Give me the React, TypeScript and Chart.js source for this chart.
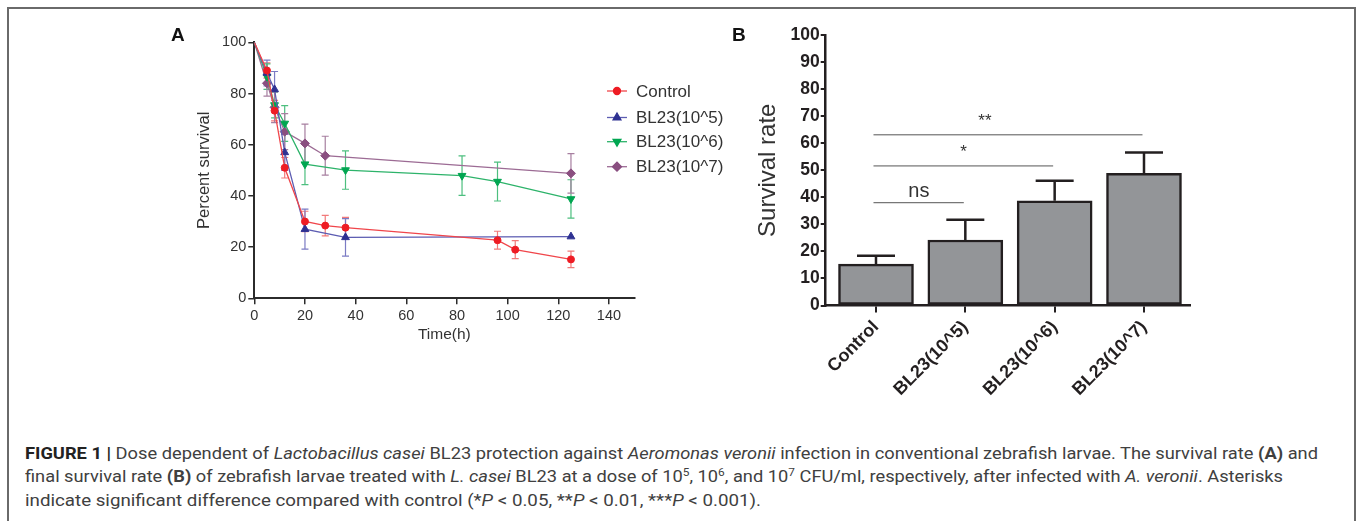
import React, { useEffect, useLayoutEffect, useRef } from 'react';
import { Chart, registerables } from 'chart.js';
import { drawPoint } from 'chart.js/helpers';

Chart.register(...registerables);

const FONT = '"Liberation Sans", Arial, Helvetica, sans-serif';
Chart.defaults.font.family = FONT;

// ---------- Panel A data ----------
const seriesNames = ['Control', 'BL23(10^5)', 'BL23(10^6)', 'BL23(10^7)'];

const controlTime = [0, 5, 8, 12, 20, 28, 36, 96, 103, 125];
const controlSurvival = [100, 89, 73.3, 51, 30, 28.4, 27.6, 22.7, 19, 15.2];
const controlError = [0, 3, 4, 4, 4, 4, 4, 3.5, 3.5, 3.2];

const bl5Time = [0, 5, 8, 12, 20, 36, 125];
const bl5Survival = [100, 88, 81.6, 57, 27, 23.8, 24.1];
const bl5Error = [0, 5, 7, 7, 7.8, 7.3, 0];

const bl6Time = [0, 5, 8, 12, 20, 36, 82, 96, 125];
const bl6Survival = [100, 86.6, 75.5, 68.3, 52.4, 50.1, 47.9, 45.6, 38.8];
const bl6Error = [0, 5, 5, 7, 8, 7.5, 7.7, 7.6, 7.5];

const bl7Time = [0, 5, 8, 12, 20, 28, 125];
const bl7Survival = [100, 84, 74.6, 65.1, 60.5, 55.7, 48.8];
const bl7Error = [0, 5, 6, 7, 7.5, 7.6, 7.7];

const timeTicks = [0, 20, 40, 60, 80, 100, 120, 140];
const survivalTicks = [0, 20, 40, 60, 80, 100];

// ---------- Panel B data ----------
const barCategories = ['Control', 'BL23(10^5)', 'BL23(10^6)', 'BL23(10^7)'];
const finalSurvival = [15.3, 24.2, 38.7, 48.9];
const finalError = [3.1, 7.5, 7.4, 7.7];

const sigLabels = ['ns', '*', '**'];
const sigFrom = [0, 0, 0];
const sigTo = [1, 2, 3];
const sigLevel = [38.0, 51.6, 63.1];
const sigLabelAt = [0.48, 0.98, 1.22];

const zip = (xs: number[], ys: number[]) => xs.map((x, i) => ({ x, y: ys[i] }));

const AXIS = '#2b2b2b';
const TEXT = '#333333';

const errorBarsA = {
  id: 'errorBarsA',
  beforeDatasetsDraw(chart: any) {
    const { ctx, scales } = chart;
    const xs = scales.x, ys = scales.y;
    chart.data.datasets.forEach((ds: any) => {
      const errs: number[] = ds.errors;
      if (!errs) return;
      ctx.save();
      ctx.strokeStyle = ds.errorColor;
      ctx.lineWidth = 1.2;
      ds.data.forEach((p: any, j: number) => {
        const e = errs[j];
        if (!e) return;
        const px = xs.getPixelForValue(p.x);
        const top = ys.getPixelForValue(p.y + e);
        const bot = ys.getPixelForValue(p.y - e);
        ctx.beginPath();
        ctx.moveTo(px, top); ctx.lineTo(px, bot);
        ctx.moveTo(px - 3.5, top); ctx.lineTo(px + 3.5, top);
        ctx.moveTo(px - 3.5, bot); ctx.lineTo(px + 3.5, bot);
        ctx.stroke();
      });
      ctx.restore();
    });
  },
};

const legendA = {
  id: 'legendA',
  afterDraw(chart: any) {
    const { ctx } = chart;
    const x0 = 447, lineLen = 20, textX = 476;
    const rows = [71, 97.5, 121.7, 146.7];
    chart.data.datasets.forEach((ds: any, i: number) => {
      const y = rows[i];
      ctx.save();
      ctx.strokeStyle = ds.borderColor;
      ctx.lineWidth = 1.3;
      ctx.beginPath();
      ctx.moveTo(x0, y); ctx.lineTo(x0 + lineLen, y);
      ctx.stroke();
      ctx.fillStyle = ds.pointBackgroundColor;
      ctx.strokeStyle = ds.pointBorderColor;
      drawPoint(ctx, { pointStyle: ds.pointStyle, rotation: ds.pointRotation || 0, radius: ds.legendRadius, borderWidth: 1 } as any, x0 + lineLen / 2, y);
      ctx.fillStyle = TEXT;
      ctx.font = `17px ${FONT}`;
      ctx.textBaseline = 'middle';
      ctx.textAlign = 'left';
      ctx.fillText(ds.label, textX, y + 1);
      ctx.restore();
    });
  },
};

const barErrorsB = {
  id: 'barErrorsB',
  afterDatasetsDraw(chart: any) {
    const { ctx, scales } = chart;
    const xs = scales.x, ys = scales.y;
    ctx.save();
    ctx.strokeStyle = '#231f20';
    ctx.lineWidth = 2.5;
    finalSurvival.forEach((v, i) => {
      const px = xs.getPixelForValue(i);
      const y0 = ys.getPixelForValue(v);
      const y1 = ys.getPixelForValue(v + finalError[i]);
      ctx.beginPath();
      ctx.moveTo(px, y0); ctx.lineTo(px, y1);
      ctx.moveTo(px - 19, y1); ctx.lineTo(px + 19, y1);
      ctx.stroke();
    });
    ctx.restore();
  },
};

const sigB = {
  id: 'sigB',
  afterDraw(chart: any) {
    const { ctx, scales } = chart;
    const xs = scales.x, ys = scales.y;
    ctx.save();
    sigLabels.forEach((lab, i) => {
      const y = ys.getPixelForValue(sigLevel[i]);
      const sx = xs.getPixelForValue(sigFrom[i]) - 2.5;
      const ex = xs.getPixelForValue(sigTo[i]) - 1.5;
      ctx.strokeStyle = '#555';
      ctx.lineWidth = 1;
      ctx.beginPath();
      ctx.moveTo(sx, y); ctx.lineTo(ex, y);
      ctx.stroke();
      ctx.fillStyle = TEXT;
      ctx.textAlign = 'center';
      ctx.textBaseline = 'alphabetic';
      const tx = xs.getPixelForValue(sigLabelAt[i]);
      if (lab === 'ns') {
        ctx.font = `20px ${FONT}`;
        ctx.fillText(lab, tx, y - 6);
      } else {
        ctx.font = `17px ${FONT}`;
        ctx.fillText(lab, tx, y - 9);
      }
    });
    ctx.restore();
  },
};

function configA(): any {
  const mk = (label: string, t: number[], v: number[], e: number[], line: string, pt: string, err: string, style: string, rot: number, r: number) => ({
    label,
    data: zip(t, v),
    errors: e,
    errorColor: err,
    borderColor: line,
    backgroundColor: pt,
    pointBackgroundColor: pt,
    pointBorderColor: pt,
    pointStyle: style,
    pointRotation: rot,
    legendRadius: r,
    pointRadius: (c: any) => (c.dataIndex === 0 ? 0 : r),
    pointBorderWidth: 1,
    borderWidth: 1.3,
    tension: 0,
    fill: false,
  });
  return {
    type: 'line',
    data: {
      datasets: [
        mk(seriesNames[0], controlTime, controlSurvival, controlError, '#f0464b', '#ee1c24', '#f27a7a', 'circle', 0, 3.5),
        mk(seriesNames[1], bl5Time, bl5Survival, bl5Error, '#5d5db2', '#2e3192', '#7b7bc4', 'triangle', 0, 4.5),
        mk(seriesNames[2], bl6Time, bl6Survival, bl6Error, '#2db36a', '#00a651', '#4dbf7f', 'triangle', 180, 4.5),
        mk(seriesNames[3], bl7Time, bl7Survival, bl7Error, '#9c6b94', '#8a4f80', '#a77fa0', 'rectRot', 0, 4.5),
      ],
    },
    options: {
      animation: false,
      responsive: false,
      maintainAspectRatio: false,
      layout: { padding: { left: 0, top: 22.3, right: 105.7, bottom: 0 } },
      plugins: { legend: { display: false }, tooltip: { enabled: false } },
      scales: {
        x: {
          type: 'linear',
          min: 0,
          max: 150,
          afterBuildTicks: (s: any) => { s.ticks = timeTicks.map((v) => ({ value: v })); },
          afterFit: (s: any) => { s.height = 61.7; },
          ticks: { autoSkip: false, color: TEXT, font: { size: 14.5 }, padding: 3 },
          grid: { drawOnChartArea: false, tickLength: 6, color: AXIS, lineWidth: 1.5 },
          border: { display: true, color: AXIS, width: 2 },
          title: { display: true, text: 'Time(h)', color: TEXT, font: { size: 15.5 }, padding: { top: 0, bottom: 15.7 } },
        },
        y: {
          min: 0,
          max: 100,
          afterBuildTicks: (s: any) => { s.ticks = survivalTicks.map((v) => ({ value: v })); },
          afterFit: (s: any) => { s.width = 94.3; },
          ticks: { autoSkip: false, color: TEXT, font: { size: 14.5 }, padding: 2 },
          grid: { drawOnChartArea: false, tickLength: 6, color: AXIS, lineWidth: 1.5 },
          border: { display: true, color: AXIS, width: 2 },
          title: { display: true, text: 'Percent survival', color: TEXT, font: { size: 16.5 }, padding: { top: 35, bottom: 0 } },
        },
      },
    },
    plugins: [errorBarsA, legendA],
  };
}

function configB(): any {
  return {
    type: 'bar',
    data: {
      datasets: [
        {
          label: 'Survival rate',
          data: zip(barCategories.map((_, i) => i), finalSurvival),
          backgroundColor: '#939598',
          borderColor: '#231f20',
          borderWidth: 2.5,
          borderSkipped: false,
          barThickness: 75,
        },
      ],
    },
    options: {
      animation: false,
      responsive: false,
      maintainAspectRatio: false,
      layout: { padding: { left: 0, top: 15, right: 30, bottom: 0 } },
      plugins: { legend: { display: false }, tooltip: { enabled: false } },
      scales: {
        x: {
          type: 'linear',
          min: -0.563,
          max: 3.515,
          offset: false,
          afterBuildTicks: (s: any) => { s.ticks = barCategories.map((_, i) => ({ value: i })); },
          afterFit: (s: any) => { s.height = 114.5; },
          ticks: {
            autoSkip: false,
            minRotation: 45,
            maxRotation: 45,
            padding: 4,
            color: '#231f20',
            font: { size: 18, weight: 'bold' },
            callback: (v: any) => barCategories[v] ?? '',
          },
          grid: { drawOnChartArea: false, offset: false, tickLength: 7, color: '#231f20', lineWidth: 2 },
          border: { display: true, color: '#231f20', width: 2.5 },
        },
        y: {
          min: 0,
          max: 100,
          afterFit: (s: any) => { s.width = 105.7; },
          ticks: { stepSize: 10, color: '#231f20', font: { size: 17.5, weight: 'bold' }, padding: 1 },
          grid: { drawOnChartArea: false, tickLength: 5, color: '#231f20', lineWidth: 2 },
          border: { display: true, color: '#231f20', width: 2.5 },
          title: { display: true, text: 'Survival rate', color: TEXT, font: { size: 24 }, padding: { top: 33.6, bottom: 0 } },
        },
      },
    },
    plugins: [barErrorsB, sigB],
  };
}

function FitLine({ top, width, children }: { top: number; width: number; children: React.ReactNode }) {
  const ref = useRef<HTMLDivElement>(null);
  useLayoutEffect(() => {
    const el = ref.current;
    if (!el) return;
    el.style.transform = 'none';
    const w = el.getBoundingClientRect().width;
    if (w > 0) el.style.transform = `scaleX(${width / w})`;
  }, [width]);
  return (
    <div
      ref={ref}
      style={{
        position: 'absolute',
        left: 25,
        top,
        whiteSpace: 'nowrap',
        transformOrigin: '0 0',
        fontFamily: 'Roboto, "Liberation Sans", Arial, sans-serif',
        fontSize: 17,
        lineHeight: '23px',
        color: '#404040',
      }}
    >
      {children}
    </div>
  );
}

const Sup = ({ children }: { children: React.ReactNode }) => (
  <sup style={{ fontSize: '0.65em', lineHeight: 0, verticalAlign: '0.55em' }}>{children}</sup>
);

export default function App() {
  const refA = useRef<HTMLCanvasElement>(null);
  const refB = useRef<HTMLCanvasElement>(null);

  useEffect(() => {
    const a = new Chart(refA.current as HTMLCanvasElement, configA());
    const b = new Chart(refB.current as HTMLCanvasElement, configB());
    return () => {
      a.destroy();
      b.destroy();
    };
  }, []);

  const panelLabel: React.CSSProperties = {
    position: 'absolute',
    fontFamily: FONT,
    fontWeight: 'bold',
    fontSize: 19,
    lineHeight: '19px',
    color: '#111',
  };

  return (
    <div style={{ position: 'absolute', left: 0, top: 0, width: 1357, height: 521, background: '#fff', overflow: 'hidden' }}>
      <div
        style={{
          position: 'absolute',
          left: 7,
          top: 7,
          width: 1349,
          height: 520,
          borderTop: '2px solid #6a6a6a',
          borderLeft: '2px solid #6a6a6a',
          borderRight: '2px solid #6a6a6a',
          boxSizing: 'border-box',
        }}
      />
      <canvas ref={refA} width={580} height={340} style={{ position: 'absolute', left: 160, top: 20 }} />
      <canvas ref={refB} width={500} height={400} style={{ position: 'absolute', left: 720, top: 20 }} />
      <div style={{ ...panelLabel, left: 171, top: 24.5 }}>A</div>
      <div style={{ ...panelLabel, left: 732, top: 24.5 }}>B</div>

      <FitLine top={441.5} width={1293}>
        <b style={{ color: '#222' }}>FIGURE 1 |</b> Dose dependent of <i>Lactobacillus casei</i> BL23 protection against{' '}
        <i>Aeromonas veronii</i> infection in conventional zebrafish larvae. The survival rate <b>(A)</b> and
      </FitLine>
      <FitLine top={465} width={1258}>
        final survival rate <b>(B)</b> of zebrafish larvae treated with <i>L. casei</i> BL23 at a dose of 10<Sup>5</Sup>, 10
        <Sup>6</Sup>, and 10<Sup>7</Sup> CFU/ml, respectively, after infected with <i>A. veronii</i>. Asterisks
      </FitLine>
      <FitLine top={488.5} width={736}>
        indicate significant difference compared with control (*<i>P</i> &lt; 0.05, **<i>P</i> &lt; 0.01, ***<i>P</i> &lt; 0.001).
      </FitLine>
    </div>
  );
}
